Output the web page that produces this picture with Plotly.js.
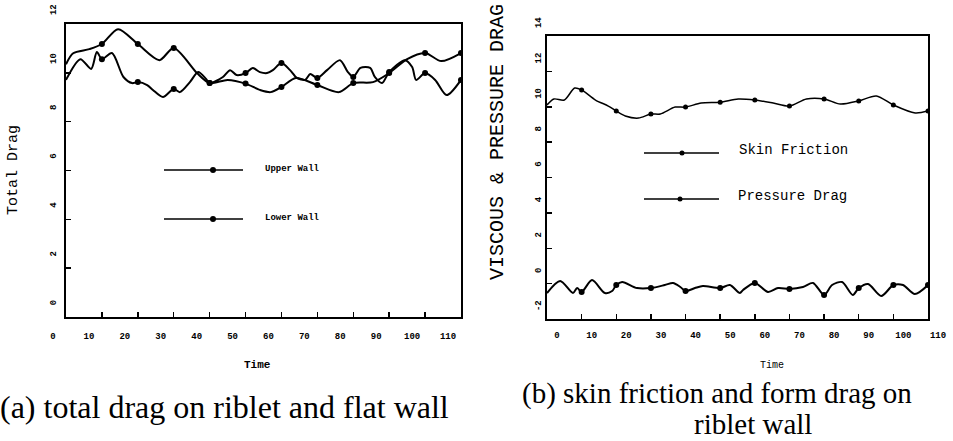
<!DOCTYPE html>
<html>
<head>
<meta charset="utf-8">
<script src="https://cdn.plot.ly/plotly-3.0.1.min.js"></script>
<style>html,body{margin:0;padding:0;background:#fff;}#chart{width:953px;height:441px;}</style>
</head>
<body>
<div id="chart"></div>
<script>
// ---- Panel (a): total drag ----
const timeUpper = [0, 2, 6.5, 10, 14.5, 20, 26, 30, 36.5, 40, 45, 50, 54, 57, 60, 64, 70, 76, 80, 85.5, 90, 95, 100, 104.5, 110];
const upperWall = [10.35, 10.8, 10.97, 11.18, 11.79, 11.18, 10.52, 11.02, 9.99, 9.58, 9.71, 9.56, 9.30, 9.21, 9.42, 9.79, 9.50, 9.21, 9.58, 9.62, 9.99, 10.56, 10.81, 10.48, 10.81];
const timeLower = [0, 4, 7, 8.6, 10, 12.8, 16, 18.4, 20, 22.6, 24.2, 27, 30, 31.7, 34.5, 36.8, 39, 40, 43.7, 45.7, 47.5, 50, 52, 54, 56, 57.6, 60, 62.4, 64.3, 66.6, 68, 70, 72.7, 76.3, 78.5, 80, 82, 84.7, 86, 88, 90, 94.4, 96.4, 97.5, 100, 102.8, 106, 110];
const lowerWall = [9.71, 10.56, 10.16, 10.85, 10.56, 10.81, 9.83, 9.58, 9.62, 9.50, 9.30, 9.01, 9.34, 9.21, 9.62, 10.03, 9.75, 9.58, 9.83, 10.11, 9.91, 9.99, 10.20, 10.03, 9.99, 10.11, 10.40, 10.11, 9.79, 9.71, 9.95, 9.79, 10.11, 10.52, 10.03, 9.83, 10.20, 10.20, 9.83, 9.58, 10.03, 10.52, 10.24, 9.71, 9.99, 9.71, 9.09, 9.71];

// ---- Panel (b): skin friction and pressure drag ----
const timeSkin = [0, 2, 5, 8, 10, 14, 17.7, 20, 22.6, 26.4, 30, 32.7, 37, 40, 44.5, 50, 55.2, 60, 65.3, 70, 74.9, 80, 84.7, 90, 95.1, 100, 106.3, 110];
const skinFriction = [10.10, 10.44, 10.38, 11.06, 10.95, 10.38, 10.04, 9.76, 9.48, 9.36, 9.59, 9.59, 9.98, 9.98, 10.21, 10.26, 10.44, 10.38, 10.21, 10.04, 10.44, 10.44, 10.15, 10.33, 10.61, 10.10, 9.65, 9.76];
const timePressure = [0, 3.8, 7.5, 8.7, 10, 13, 16.7, 18.8, 20, 21.7, 26, 30, 34, 36.4, 38.5, 40, 42.7, 45, 50, 52.8, 55.7, 56.6, 60, 63.8, 66.7, 70, 73.9, 76.8, 80, 82.3, 85.2, 88.3, 90, 92.7, 96.5, 100, 102.8, 106.2, 110];
const pressureDrag = [-0.53, 0.15, -0.53, -0.25, -0.47, 0.20, -0.53, -0.42, -0.08, 0.09, -0.25, -0.25, -0.08, 0.04, -0.19, -0.42, -0.25, -0.13, -0.25, -0.08, -0.53, -0.36, 0.04, -0.47, -0.25, -0.30, -0.19, 0.04, -0.64, -0.08, 0.09, -0.64, -0.25, -0.02, -0.70, -0.08, -0.08, -0.59, -0.08];

// ---- Ticks ----
const xTicks = [0, 10, 20, 30, 40, 50, 60, 70, 80, 90, 100, 110];
const xTickText = ["0", "10", "20", "30", "40", "50", "60", "70", "80", "90", "100", "110"];
const yTicksA = [0, 2, 4, 6, 8, 10, 12];
const yTickTextA = ["0", "2", "4", "6", "8", "10", "12"];
const yTicksB = [-2, 0, 2, 4, 6, 8, 10, 12, 14];
const yTickTextB = ["-2", "0", "2", "4", "6", "8", "10", "12", "14"];

const W = 953, H = 441;
const px = v => v / W;
const py = v => 1 - v / H;
const MONO = "Liberation Mono, DejaVu Sans Mono, monospace";
const SERIF = "Liberation Serif, DejaVu Serif, serif";

function markersOf(t, y) {
  const mx = [], my = [];
  t.forEach((v, i) => { if (v > 0 && Math.abs(v % 10) < 1e-9) { mx.push(v); my.push(y[i]); } });
  return {x: mx, y: my};
}

function series(t, y, xa, ya, lw, ms, name) {
  const m = markersOf(t, y);
  return [
    {x: t, y: y, xaxis: xa, yaxis: ya, mode: 'lines', name: name,
     line: {color: '#000', width: lw, shape: 'spline', smoothing: 0.8}, hoverinfo: 'skip', showlegend: false},
    {x: m.x, y: m.y, xaxis: xa, yaxis: ya, mode: 'markers', name: name,
     marker: {color: '#000', size: ms, symbol: 'circle'}, hoverinfo: 'skip', showlegend: false}
  ];
}

const data = [].concat(
  series(timeUpper, upperWall, 'x', 'y', 2, 6, 'Upper Wall'),
  series(timeLower, lowerWall, 'x', 'y', 2, 6, 'Lower Wall'),
  series(timeSkin, skinFriction, 'x2', 'y2', 1.5, 5, 'Skin Friction'),
  series(timePressure, pressureDrag, 'x2', 'y2', 2, 6, 'Pressure Drag')
);

const axisBase = {
  showline: true, linecolor: '#000', mirror: true, showgrid: false, zeroline: false,
  ticks: 'inside', ticklen: 5, tickwidth: 1.5, tickcolor: '#000', tickmode: 'array', fixedrange: true
};

function legendItem(x0, x1, y, mx, ms) {
  return [
    {type: 'line', xref: 'paper', yref: 'paper', x0: px(x0), x1: px(x1), y0: py(y), y1: py(y), line: {color: '#000', width: 1.5}},
    {type: 'circle', xref: 'paper', yref: 'paper', xsizemode: 'pixel', ysizemode: 'pixel',
     xanchor: px(mx), yanchor: py(y), x0: -ms, x1: ms, y0: -ms, y1: ms, fillcolor: '#000', line: {color: '#000', width: 0}}
  ];
}

const shapes = [].concat(
  legendItem(164, 243, 170, 213, 3),
  legendItem(164, 243, 219, 213, 3),
  legendItem(644, 719, 153, 682, 2.5),
  legendItem(644, 719, 199, 680, 2.5)
);

function ann(text, x, y, size, opts) {
  return Object.assign({text: text, x: px(x), y: py(y), xref: 'paper', yref: 'paper', showarrow: false,
    xanchor: 'center', yanchor: 'middle', font: {family: MONO, size: size, color: '#000'}}, opts || {});
}

const annotations = [
  ann('Total Drag', 13, 170, 15, {textangle: -90}),
  ann('Time', 257, 365, 11, {font: {family: MONO, size: 11, color: '#000', weight: 'bold'}}),
  ann('VISCOUS &amp; PRESSURE DRAG', 497, 142, 20, {textangle: -90}),
  ann('Time', 772, 365, 10),
  ann('Upper Wall', 263, 169, 9, {xanchor: 'left', font: {family: MONO, size: 9, color: '#000', weight: 'bold'}}),
  ann('Lower Wall', 263, 218, 9, {xanchor: 'left', font: {family: MONO, size: 9, color: '#000', weight: 'bold'}}),
  ann('Skin Friction', 737, 150, 14, {xanchor: 'left'}),
  ann('Pressure Drag', 736, 196, 14, {xanchor: 'left'}),
  ann('(a) total drag on riblet and flat wall', 224, 407, 32, {font: {family: SERIF, size: 32, color: '#000'}}),
  ann('(b) skin friction and form drag on', 717, 393, 29, {borderpad: 0, font: {family: SERIF, size: 29, color: '#000'}}),
  ann('riblet wall', 753, 441, 29, {yanchor: 'bottom', borderpad: 0, font: {family: SERIF, size: 29, color: '#000'}})
];

const layout = {
  width: W, height: H, margin: {l: 0, r: 0, t: 0, b: 0},
  paper_bgcolor: '#fff', plot_bgcolor: '#fff', showlegend: false,
  xaxis: Object.assign({}, axisBase, {domain: [px(66), px(461)], range: [0, 110], anchor: 'y', linewidth: 2,
    tickvals: xTicks, ticktext: xTickText, ticklabelshift: -13, ticklabelstandoff: 9,
    tickfont: {family: MONO, size: 9, color: '#000', weight: 'bold'}}),
  yaxis: Object.assign({}, axisBase, {domain: [py(317), py(24)], range: [0, 12], anchor: 'x', linewidth: 2,
    tickvals: yTicksA, ticktext: yTickTextA, tickangle: -90, ticklabelshift: -13, ticklabelstandoff: 4,
    tickfont: {family: MONO, size: 9, color: '#000', weight: 'bold'}}),
  xaxis2: Object.assign({}, axisBase, {domain: [px(547), px(928)], range: [0, 110], anchor: 'y2', linewidth: 2,
    tickvals: xTicks, ticktext: xTickText, ticklabelshift: 10, ticklabelstandoff: 6,
    tickfont: {family: MONO, size: 9, color: '#000', weight: 'bold'}}),
  yaxis2: Object.assign({}, axisBase, {domain: [py(319), py(36)], range: [-2, 14], anchor: 'x2', linewidth: 2,
    tickvals: yTicksB, ticktext: yTickTextB, tickangle: -90, ticklabelshift: -12, ticklabelstandoff: 0,
    tickfont: {family: MONO, size: 9, color: '#000', weight: 'bold'}}),
  shapes: shapes,
  annotations: annotations
};

Plotly.newPlot('chart', data, layout, {staticPlot: true, displayModeBar: false});
</script>
</body>
</html>
